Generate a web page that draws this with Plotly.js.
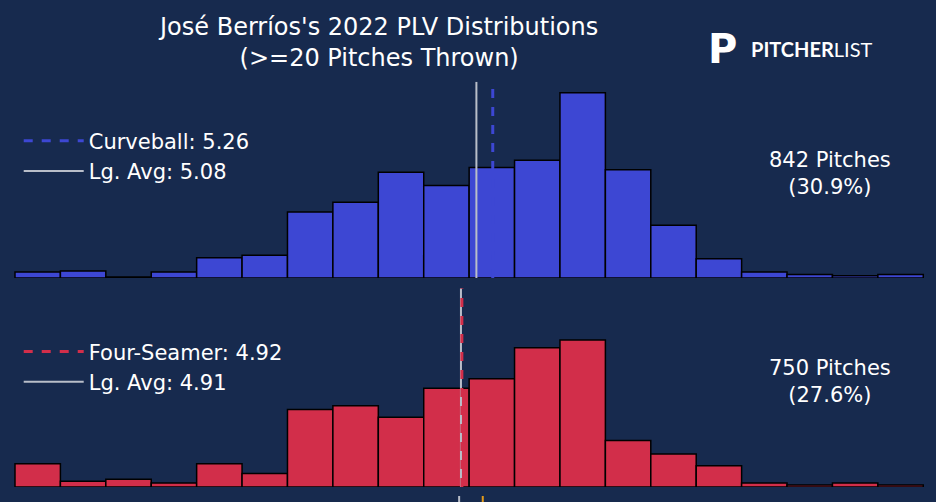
<!DOCTYPE html>
<html>
<head>
<meta charset="utf-8">
<script src="https://cdn.plot.ly/plotly-3.0.1.min.js"></script>
<style>body{margin:0;background:#172a4e}</style>
</head>
<body>
<div id="chart" style="width:936px;height:502px"></div>
<script>
// PLV bins of width 0.5 from 0 to 10 (pitch counts)
var binCenters = [0.25,0.75,1.25,1.75,2.25,2.75,3.25,3.75,4.25,4.75,5.25,5.75,6.25,6.75,7.25,7.75,8.25,8.75,9.25,9.75];
var curveCounts = [5,6,1,5,17,19,55,63,88,77,92,98,154,90,44,16,5,3,2,3];
var fourCounts = [12,3,4,2,12,7,40,42,36,51,56,72,76,24,17,11,2,1,2,1];
var curveMean = 5.26, curveLg = 5.08;
var fourMean = 4.92, fourLg = 4.91;
var nextMean = 5.15, nextLg = 4.89;

var bg = '#172a4e';
var blue = '#3d47d3', red = '#d22e4a', gray = '#b9bec9';
var topMax = 154/0.944, botMax = 76/0.739;

function bars(y, color, ax) {
  return {type:'bar', x:binCenters, y:y, width:0.5, xaxis:'x', yaxis:ax,
    marker:{color:color, line:{color:'#000', width:1.5}}, showlegend:false, hoverinfo:'skip'};
}
function vline(x, ymax, ax, color, dash, name, leg) {
  return {type:'scatter', mode:'lines', x:[x,x], y:[0,ymax], xaxis:'x', yaxis:ax,
    line:{color:color, width:dash?3:2, dash:dash?'dash':'solid'}, name:name, legend:leg,
    showlegend:!!name};
}

var data = [
  bars(curveCounts, blue, 'y'),
  bars(fourCounts, red, 'y2'),
  vline(curveLg, topMax, 'y', gray, false, 'Lg. Avg: 5.08', 'legend'),
  vline(curveMean, topMax, 'y', blue, true, 'Curveball: 5.26', 'legend'),
  vline(fourLg, botMax, 'y2', gray, false, 'Lg. Avg: 4.91', 'legend2'),
  vline(fourMean, botMax, 'y2', red, true, 'Four-Seamer: 4.92', 'legend2'),
  vline(nextLg, 1, 'y3', gray, false, null, 'legend'),
  vline(nextMean, 1, 'y3', '#e39b1a', false, null, 'legend')
];

var hidden = {visible:false, fixedrange:true};
var legStyle = {font:{family:'DejaVu Sans', size:21, color:'#fff'}, bgcolor:'rgba(0,0,0,0)',
  traceorder:'reversed', itemwidth:60, xanchor:'left', yanchor:'top', x:0.02};

var layout = {
  width:936, height:502, margin:{l:0, r:0, t:0, b:0},
  paper_bgcolor:bg, plot_bgcolor:bg, bargap:0,
  font:{family:'DejaVu Sans', color:'#fff'},
  xaxis:Object.assign({range:[-0.165, 10.14]}, hidden),
  yaxis:Object.assign({domain:[0.446, 0.837], range:[0, topMax]}, hidden),
  yaxis2:Object.assign({domain:[0.03, 0.426], range:[0, botMax]}, hidden),
  yaxis3:Object.assign({domain:[0, 0.012], range:[0, 1]}, hidden),
  legend:Object.assign({y:0.76}, legStyle),
  legend2:Object.assign({y:0.34}, legStyle),
  annotations:[
    {text:"José Berríos's 2022 PLV Distributions<br>(>=20 Pitches Thrown)", xref:'paper', yref:'paper',
      x:0.404, y:0.978, xanchor:'center', yanchor:'top', showarrow:false, font:{size:24, color:'#fff'}},
    {text:'842 Pitches<br>(30.9%)', xref:'paper', yref:'paper', x:0.887, y:0.655, xanchor:'center', yanchor:'middle',
      showarrow:false, font:{size:21, color:'#fff'}},
    {text:'750 Pitches<br>(27.6%)', xref:'paper', yref:'paper', x:0.887, y:0.24, xanchor:'center', yanchor:'middle',
      showarrow:false, font:{size:21, color:'#fff'}},
    {text:'<b>P</b>', xref:'paper', yref:'paper', x:0.772, y:0.902, xanchor:'center', yanchor:'middle', showarrow:false,
      font:{size:40, family:'DejaVu Sans', color:'#fff'}},
    {text:'<b>PITCHER</b>LIST', xref:'paper', yref:'paper', x:0.868, y:0.902, xanchor:'center', yanchor:'middle', showarrow:false,
      font:{size:20, family:'Lato', color:'#fff'}}
  ]
};
Plotly.newPlot('chart', data, layout, {displayModeBar:false, staticPlot:true});
</script>
</body>
</html>
